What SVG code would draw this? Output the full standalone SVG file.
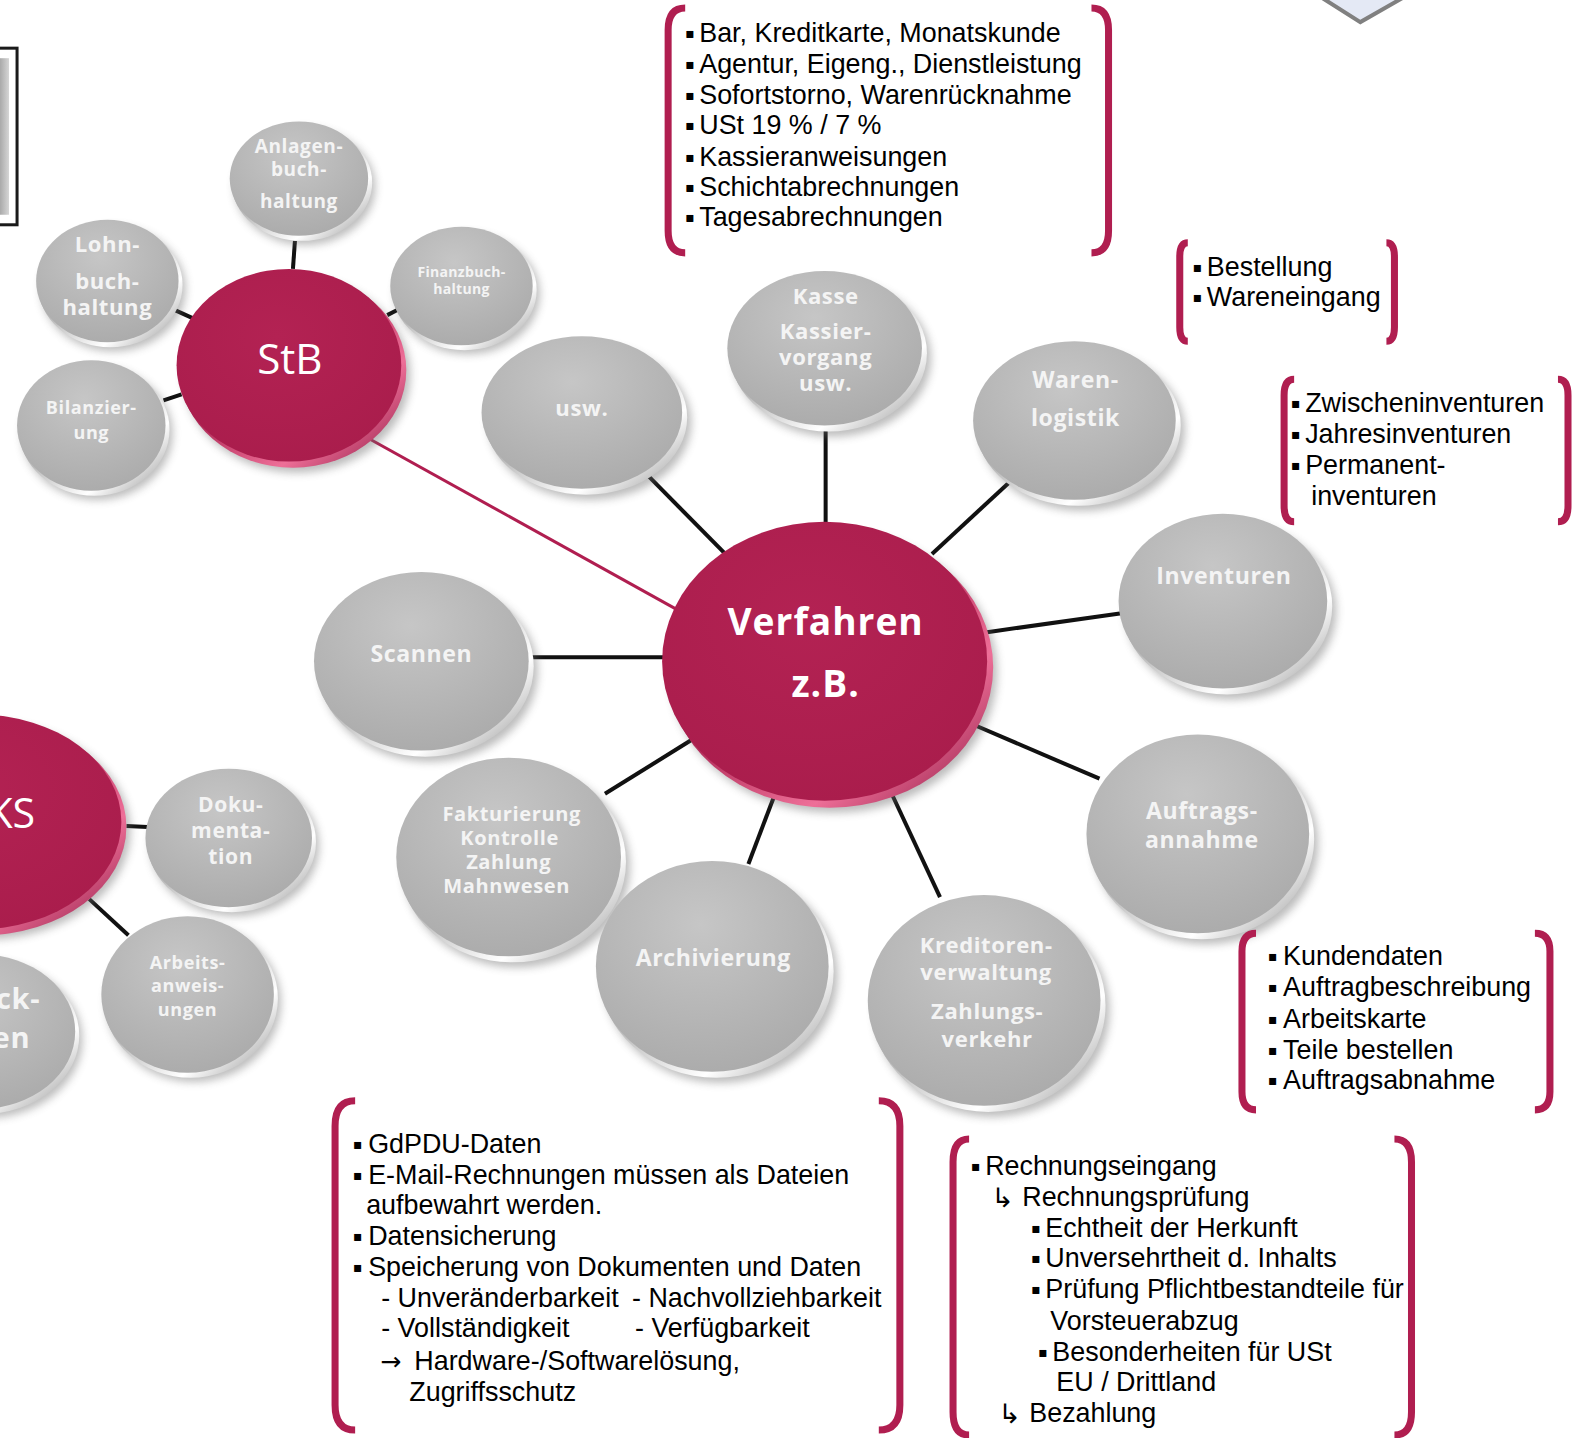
<svg xmlns="http://www.w3.org/2000/svg" width="1573" height="1438" viewBox="0 0 1573 1438">
<style>
.face-g{fill:url(#gface)}
.rim-g{fill:url(#grim)}
.face-m{fill:url(#mface)}
.rim-m{fill:url(#mrim)}
.shadow{fill:#6a6a6a;opacity:.45;filter:url(#blur)}
.lbl{font-family:"Open Sans",Lato,sans-serif;font-weight:bold;fill:#f4f4f4;text-anchor:middle;dominant-baseline:central;letter-spacing:0.6px}
.big{font-family:"Open Sans",Lato,sans-serif;fill:#ffffff;text-anchor:middle;dominant-baseline:central}
.con{stroke:#111;stroke-width:4;fill:none}
.br{stroke:#b01e50;stroke-width:7;fill:none;stroke-linecap:butt}
.lst{font-family:"Liberation Sans",Arial,sans-serif;font-size:26.8px;fill:#000;dominant-baseline:central}
.bu{font-family:"DejaVu Sans",sans-serif;font-size:14px}
.ar{font-family:"DejaVu Sans",sans-serif;font-size:27px}
.ra{font-family:"DejaVu Sans",sans-serif;font-size:25px}
</style>
<defs>
<filter id="blur" x="-20%" y="-20%" width="140%" height="140%"><feGaussianBlur stdDeviation="4"/></filter>
<radialGradient id="gface" cx="0.45" cy="0.3" r="0.8"><stop offset="0" stop-color="#c6c6c6"/><stop offset="1" stop-color="#a8a8a8"/></radialGradient>
<linearGradient id="grim" x1="0" y1="0" x2="1" y2="1"><stop offset="0.35" stop-color="#a8a8a8"/><stop offset="0.72" stop-color="#ffffff"/><stop offset="1" stop-color="#8a8a8a"/></linearGradient>
<radialGradient id="mface" cx="0.45" cy="0.35" r="0.8"><stop offset="0" stop-color="#b32253"/><stop offset="1" stop-color="#a81c4b"/></radialGradient>
<linearGradient id="mrim" x1="0" y1="0" x2="1" y2="1"><stop offset="0.35" stop-color="#a01a47"/><stop offset="0.72" stop-color="#ee6f98"/><stop offset="1" stop-color="#8a1540"/></linearGradient>
<linearGradient id="boxg" x1="0" y1="0" x2="1" y2="0"><stop offset="0" stop-color="#8c8c8c"/><stop offset="1" stop-color="#d6d6d6"/></linearGradient>
</defs>
<rect width="1573" height="1438" fill="#fff"/>
<g transform="scale(1.0032,1.0035)">

<g id="box-topleft">
<rect x="-6" y="48" width="23" height="176" fill="#fff" stroke="#1a1a1a" stroke-width="3"/>
<rect x="-6" y="58" width="15" height="156" fill="url(#boxg)"/>
</g>
<g id="diamond-topright">
<polygon points="1318,-2 1356,22 1398,-2" fill="#e4e9f5" stroke="#808080" stroke-width="4" stroke-linejoin="miter"/>
</g>

<g id="connectors">
<line class="con" x1="294" y1="240" x2="292" y2="268"/>
<line class="con" x1="170" y1="307" x2="192" y2="317"/>
<line class="con" x1="386" y1="314" x2="398" y2="308"/>
<line class="con" x1="163" y1="399" x2="181" y2="393"/>
<line x1="355" y1="430" x2="674" y2="607" stroke="#b01e50" stroke-width="3"/>
<line class="con" x1="643" y1="471" x2="722" y2="551"/>
<line class="con" x1="823" y1="420" x2="823" y2="522"/>
<line class="con" x1="1010" y1="477" x2="929" y2="552"/>
<line class="con" x1="1118" y1="611" x2="984" y2="630"/>
<line class="con" x1="528" y1="655" x2="661" y2="655"/>
<line class="con" x1="1096" y1="776" x2="970" y2="722"/>
<line class="con" x1="603" y1="791" x2="690" y2="737"/>
<line class="con" x1="746" y1="861" x2="773" y2="790"/>
<line class="con" x1="937" y1="894" x2="887" y2="787"/>
<line class="con" x1="126" y1="823" x2="147" y2="824"/>
<line class="con" x1="89" y1="896" x2="128" y2="932"/>
</g>

<g id="node-anlagen">
<ellipse class="shadow" cx="304" cy="186" rx="70" ry="58"/>
<ellipse class="rim-g" cx="301" cy="182" rx="70" ry="58"/>
<ellipse class="face-g" cx="298" cy="178" rx="69" ry="57"/>
<text class="lbl" font-size="19"><tspan x="298" y="145">Anlagen-</tspan><tspan x="298" y="168">buch-</tspan><tspan x="298" y="200">haltung</tspan></text>
</g>
<g id="node-lohn">
<ellipse class="shadow" cx="113" cy="288" rx="72" ry="62"/>
<ellipse class="rim-g" cx="110" cy="284" rx="72" ry="62"/>
<ellipse class="face-g" cx="107" cy="280" rx="71" ry="61"/>
<text class="lbl" font-size="22"><tspan x="107" y="242">Lohn-</tspan><tspan x="107" y="279">buch-</tspan><tspan x="107" y="305">haltung</tspan></text>
</g>
<g id="node-finanz">
<ellipse class="shadow" cx="466" cy="293" rx="72" ry="60"/>
<ellipse class="rim-g" cx="463" cy="289" rx="72" ry="60"/>
<ellipse class="face-g" cx="460" cy="285" rx="71" ry="59"/>
<text class="lbl" font-size="14" style="letter-spacing:0.3px"><tspan x="460" y="270">Finanzbuch-</tspan><tspan x="460" y="287">haltung</tspan></text>
</g>
<g id="node-bilanz">
<ellipse class="shadow" cx="97" cy="432" rx="75" ry="66"/>
<ellipse class="rim-g" cx="94" cy="428" rx="75" ry="66"/>
<ellipse class="face-g" cx="91" cy="424" rx="74" ry="65"/>
<text class="lbl" font-size="18"><tspan x="91" y="406">Bilanzier-</tspan><tspan x="91" y="430">ung</tspan></text>
</g>
<g id="node-stb">
<ellipse class="shadow" cx="296" cy="374" rx="113" ry="97"/>
<ellipse class="rim-m" cx="292" cy="369" rx="113" ry="97"/>
<ellipse class="face-m" cx="288" cy="364" rx="112" ry="96"/>
<text class="big" x="289" y="356" font-size="42">StB</text>
</g>

<g id="node-ks">
<ellipse class="shadow" cx="-14" cy="828" rx="144" ry="108"/>
<ellipse class="rim-m" cx="-18" cy="824" rx="144" ry="108"/>
<ellipse class="face-m" cx="-22" cy="819" rx="143" ry="107"/>
<text class="big" x="35" y="809" font-size="41" style="text-anchor:end">KS</text>
</g>
<g id="node-doku">
<ellipse class="shadow" cx="234" cy="843" rx="84" ry="70"/>
<ellipse class="rim-g" cx="231" cy="839" rx="84" ry="70"/>
<ellipse class="face-g" cx="228" cy="835" rx="83" ry="69"/>
<text class="lbl" font-size="21"><tspan x="230" y="800">Doku-</tspan><tspan x="230" y="826">menta-</tspan><tspan x="230" y="852">tion</tspan></text>
</g>
<g id="node-arbeits">
<ellipse class="shadow" cx="193" cy="999" rx="87" ry="79"/>
<ellipse class="rim-g" cx="190" cy="995" rx="87" ry="79"/>
<ellipse class="face-g" cx="187" cy="991" rx="86" ry="78"/>
<text class="lbl" font-size="18"><tspan x="187" y="959">Arbeits-</tspan><tspan x="187" y="982">anweis-</tspan><tspan x="187" y="1005">ungen</tspan></text>
</g>
<g id="node-ck">
<ellipse class="shadow" cx="-14" cy="1036" rx="96" ry="78"/>
<ellipse class="rim-g" cx="-17" cy="1032" rx="96" ry="78"/>
<ellipse class="face-g" cx="-20" cy="1028" rx="95" ry="77"/>
<text class="lbl" font-size="29" style="text-anchor:end"><tspan x="40" y="995">ck-</tspan><tspan x="30" y="1033">en</tspan></text>
</g>

<g id="node-usw">
<ellipse class="shadow" cx="588" cy="421" rx="101" ry="77"/>
<ellipse class="rim-g" cx="584" cy="416" rx="101" ry="77"/>
<ellipse class="face-g" cx="580" cy="411" rx="100" ry="76"/>
<text class="lbl" x="580" y="406" font-size="22">usw.</text>
</g>
<g id="node-kasse">
<ellipse class="shadow" cx="830" cy="357" rx="98" ry="78"/>
<ellipse class="rim-g" cx="826" cy="352" rx="98" ry="78"/>
<ellipse class="face-g" cx="822" cy="347" rx="97" ry="77"/>
<text class="lbl" font-size="22"><tspan x="823" y="294">Kasse</tspan><tspan x="823" y="329">Kassier-</tspan><tspan x="823" y="355">vorgang</tspan><tspan x="823" y="381">usw.</tspan></text>
</g>
<g id="node-waren">
<ellipse class="shadow" cx="1079" cy="429" rx="102" ry="80"/>
<ellipse class="rim-g" cx="1075" cy="424" rx="102" ry="80"/>
<ellipse class="face-g" cx="1071" cy="419" rx="101" ry="79"/>
<text class="lbl" font-size="23"><tspan x="1072" y="378">Waren-</tspan><tspan x="1072" y="416">logistik</tspan></text>
</g>
<g id="node-inventuren">
<ellipse class="shadow" cx="1227" cy="609" rx="105" ry="88"/>
<ellipse class="rim-g" cx="1223" cy="604" rx="105" ry="88"/>
<ellipse class="face-g" cx="1219" cy="599" rx="104" ry="87"/>
<text class="lbl" x="1220" y="573" font-size="23">Inventuren</text>
</g>
<g id="node-scannen">
<ellipse class="shadow" cx="428" cy="669" rx="108" ry="90"/>
<ellipse class="rim-g" cx="424" cy="664" rx="108" ry="90"/>
<ellipse class="face-g" cx="420" cy="659" rx="107" ry="89"/>
<text class="lbl" x="420" y="651" font-size="23">Scannen</text>
</g>
<g id="node-auftrag">
<ellipse class="shadow" cx="1202" cy="841" rx="112" ry="100"/>
<ellipse class="rim-g" cx="1198" cy="836" rx="112" ry="100"/>
<ellipse class="face-g" cx="1194" cy="831" rx="111" ry="99"/>
<text class="lbl" font-size="23"><tspan x="1198" y="807">Auftrags-</tspan><tspan x="1198" y="836">annahme</tspan></text>
</g>
<g id="node-faktur">
<ellipse class="shadow" cx="515" cy="864" rx="113" ry="100"/>
<ellipse class="rim-g" cx="511" cy="859" rx="113" ry="100"/>
<ellipse class="face-g" cx="507" cy="854" rx="112" ry="99"/>
<text class="lbl" font-size="20"><tspan x="510" y="810">Fakturierung</tspan><tspan x="508" y="834">Kontrolle</tspan><tspan x="507" y="858">Zahlung</tspan><tspan x="505" y="882">Mahnwesen</tspan></text>
</g>
<g id="node-archiv">
<ellipse class="shadow" cx="718" cy="973" rx="117" ry="106"/>
<ellipse class="rim-g" cx="714" cy="968" rx="117" ry="106"/>
<ellipse class="face-g" cx="710" cy="963" rx="116" ry="105"/>
<text class="lbl" x="711" y="954" font-size="23">Archivierung</text>
</g>
<g id="node-kreditoren">
<ellipse class="shadow" cx="989" cy="1007" rx="117" ry="106"/>
<ellipse class="rim-g" cx="985" cy="1002" rx="117" ry="106"/>
<ellipse class="face-g" cx="981" cy="997" rx="116" ry="105"/>
<text class="lbl" font-size="22"><tspan x="983" y="941">Kreditoren-</tspan><tspan x="983" y="968">verwaltung</tspan><tspan x="984" y="1006">Zahlungs-</tspan><tspan x="984" y="1034">verkehr</tspan></text>
</g>
<g id="node-verfahren">
<ellipse class="shadow" cx="831" cy="670" rx="163" ry="140"/>
<ellipse class="rim-m" cx="827" cy="665" rx="163" ry="140"/>
<ellipse class="face-m" cx="822" cy="659" rx="162" ry="139"/>
<text class="big" font-size="37" font-weight="bold" style="letter-spacing:1px"><tspan x="823" y="618">Verfahren</tspan><tspan x="823" y="680">z.B.</tspan></text>
</g>

<g id="box-kasse">
<path class="br" d="M683,8 Q666,8 666,30 L666,230 Q666,252 683,252"/>
<path class="br" d="M1088,8 Q1105,8 1105,30 L1105,230 Q1105,252 1088,252"/>
<text class="lst"><tspan class="bu" x="683" y="33">▪</tspan><tspan x="697" y="33">Bar, Kreditkarte, Monatskunde</tspan></text>
<text class="lst"><tspan class="bu" x="683" y="64">▪</tspan><tspan x="697" y="64">Agentur, Eigeng., Dienstleistung</tspan></text>
<text class="lst"><tspan class="bu" x="683" y="95">▪</tspan><tspan x="697" y="95">Sofortstorno, Warenrücknahme</tspan></text>
<text class="lst"><tspan class="bu" x="683" y="125">▪</tspan><tspan x="697" y="125">USt 19 % / 7 %</tspan></text>
<text class="lst"><tspan class="bu" x="683" y="156">▪</tspan><tspan x="697" y="156">Kassieranweisungen</tspan></text>
<text class="lst"><tspan class="bu" x="683" y="186">▪</tspan><tspan x="697" y="186">Schichtabrechnungen</tspan></text>
<text class="lst"><tspan class="bu" x="683" y="216">▪</tspan><tspan x="697" y="216">Tagesabrechnungen</tspan></text>
</g>
<g id="box-waren">
<path class="br" d="M1184,242 Q1176,242 1176,256 L1176,326 Q1176,340 1184,340"/>
<path class="br" d="M1382,242 Q1390,242 1390,256 L1390,326 Q1390,340 1382,340"/>
<text class="lst"><tspan class="bu" x="1189" y="266">▪</tspan><tspan x="1203" y="266">Bestellung</tspan></text>
<text class="lst"><tspan class="bu" x="1189" y="296">▪</tspan><tspan x="1203" y="296">Wareneingang</tspan></text>
</g>
<g id="box-inventuren">
<path class="br" d="M1290,378 Q1280,378 1280,394 L1280,504 Q1280,520 1290,520"/>
<path class="br" d="M1553,378 Q1563,378 1563,394 L1563,504 Q1563,520 1553,520"/>
<text class="lst"><tspan class="bu" x="1287" y="402">▪</tspan><tspan x="1301" y="402">Zwischeninventuren</tspan></text>
<text class="lst"><tspan class="bu" x="1287" y="432">▪</tspan><tspan x="1301" y="432">Jahresinventuren</tspan></text>
<text class="lst"><tspan class="bu" x="1287" y="463">▪</tspan><tspan x="1301" y="463">Permanent-</tspan></text>
<text class="lst"><tspan x="1307" y="494">inventuren</tspan></text>
</g>
<g id="box-auftrag">
<path class="br" d="M1252,930 Q1238,930 1238,948 L1238,1088 Q1238,1106 1252,1106"/>
<path class="br" d="M1530,930 Q1545,930 1545,948 L1545,1088 Q1545,1106 1530,1106"/>
<text class="lst"><tspan class="bu" x="1264" y="953">▪</tspan><tspan x="1279" y="953">Kundendaten</tspan></text>
<text class="lst"><tspan class="bu" x="1264" y="984">▪</tspan><tspan x="1279" y="984">Auftragbeschreibung</tspan></text>
<text class="lst"><tspan class="bu" x="1264" y="1015">▪</tspan><tspan x="1279" y="1015">Arbeitskarte</tspan></text>
<text class="lst"><tspan class="bu" x="1264" y="1046">▪</tspan><tspan x="1279" y="1046">Teile bestellen</tspan></text>
<text class="lst"><tspan class="bu" x="1264" y="1076">▪</tspan><tspan x="1279" y="1076">Auftragsabnahme</tspan></text>
</g>
<g id="box-archiv">
<path class="br" d="M354,1097 Q334,1097 334,1122 L334,1400 Q334,1425 354,1425"/>
<path class="br" d="M876,1097 Q897,1097 897,1122 L897,1400 Q897,1425 876,1425"/>
<text class="lst"><tspan class="bu" x="352" y="1140">▪</tspan><tspan x="367" y="1140">GdPDU-Daten</tspan></text>
<text class="lst"><tspan class="bu" x="352" y="1171">▪</tspan><tspan x="367" y="1171">E-Mail-Rechnungen müssen als Dateien</tspan></text>
<text class="lst"><tspan x="365" y="1201">aufbewahrt werden.</tspan></text>
<text class="lst"><tspan class="bu" x="352" y="1232">▪</tspan><tspan x="367" y="1232">Datensicherung</tspan></text>
<text class="lst"><tspan class="bu" x="352" y="1263">▪</tspan><tspan x="367" y="1263">Speicherung von Dokumenten und Daten</tspan></text>
<text class="lst"><tspan x="380" y="1293">- Unveränderbarkeit</tspan><tspan x="630" y="1293">- Nachvollziehbarkeit</tspan></text>
<text class="lst"><tspan x="380" y="1323">- Vollständigkeit</tspan><tspan x="633" y="1323">- Verfügbarkeit</tspan></text>
<text class="lst"><tspan class="ra" x="379" y="1356">→</tspan><tspan x="413" y="1356">Hardware-/Softwarelösung,</tspan></text>
<text class="lst"><tspan x="408" y="1387">Zugriffsschutz</tspan></text>
</g>
<g id="box-kreditoren">
<path class="br" d="M966,1135 Q950,1135 950,1158 L950,1407 Q950,1430 966,1430"/>
<path class="br" d="M1390,1135 Q1407,1135 1407,1158 L1407,1407 Q1407,1430 1390,1430"/>
<text class="lst"><tspan class="bu" x="968" y="1162">▪</tspan><tspan x="982" y="1162">Rechnungseingang</tspan></text>
<text class="lst"><tspan class="ar" x="988" y="1193">↳</tspan><tspan x="1019" y="1193">Rechnungsprüfung</tspan></text>
<text class="lst"><tspan class="bu" x="1028" y="1224">▪</tspan><tspan x="1042" y="1224">Echtheit der Herkunft</tspan></text>
<text class="lst"><tspan class="bu" x="1028" y="1254">▪</tspan><tspan x="1042" y="1254">Unversehrtheit d. Inhalts</tspan></text>
<text class="lst"><tspan class="bu" x="1028" y="1285">▪</tspan><tspan x="1042" y="1285">Prüfung Pflichtbestandteile für</tspan></text>
<text class="lst"><tspan x="1047" y="1316">Vorsteuerabzug</tspan></text>
<text class="lst"><tspan class="bu" x="1035" y="1347">▪</tspan><tspan x="1049" y="1347">Besonderheiten für USt</tspan></text>
<text class="lst"><tspan x="1053" y="1377">EU / Drittland</tspan></text>
<text class="lst"><tspan class="ar" x="995" y="1408">↳</tspan><tspan x="1026" y="1408">Bezahlung</tspan></text>
</g>
</g>
</svg>
